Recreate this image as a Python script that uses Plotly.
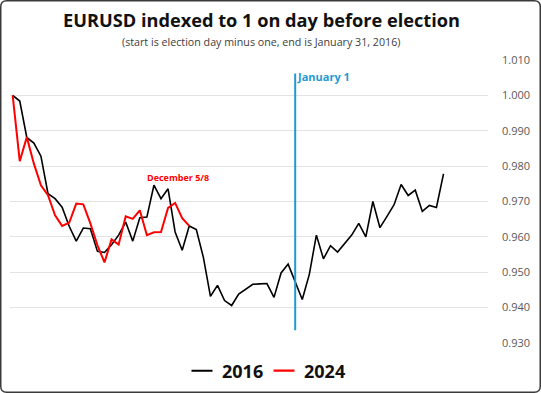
import plotly.graph_objects as go

# ---- data ----
values_2016 = [1.0000, 0.9984, 0.9881, 0.9865, 0.9828, 0.9722, 0.9708, 0.9684, 0.9630, 0.9588,
               0.9625, 0.9623, 0.9559, 0.9556, 0.9578, 0.9605, 0.9642, 0.9588, 0.9654, 0.9656,
               0.9746, 0.9708, 0.9736, 0.9614, 0.9562, 0.9631, 0.9621, 0.9542, 0.9432, 0.9463,
               0.9420, 0.9406, 0.9438, 0.9451, 0.9466, 0.9467, 0.9468, 0.9429, 0.9498, 0.9523,
               0.9473, 0.9423, 0.9494, 0.9605, 0.9538, 0.9575, 0.9557, 0.9582, 0.9605, 0.9638,
               0.9600, 0.9700, 0.9626, 0.9658, 0.9691, 0.9748, 0.9717, 0.9732, 0.9672, 0.9689,
               0.9683, 0.9778]
values_2024 = [1.0000, 0.9814, 0.9882, 0.9807, 0.9746, 0.9718, 0.9661, 0.9631, 0.9640, 0.9694,
               0.9692, 0.9638, 0.9576, 0.9528, 0.9593, 0.9578, 0.9658, 0.9651, 0.9675, 0.9605,
               0.9613, 0.9614, 0.9682, 0.9696, 0.9653, 0.9631]
series_names = ["2016", "2024"]
series_colors = ["#000000", "#ff0000"]
y_ticks = [0.93, 0.94, 0.95, 0.96, 0.97, 0.98, 0.99, 1.00, 1.01]
y_tick_labels = ["0.930", "0.940", "0.950", "0.960", "0.970", "0.980", "0.990", "1.000", "1.010"]

jan1_index = 40
jan1_line_span = [0.9336, 1.0062]
jan1_label = "January 1"
jan1_label_y = 1.0054
dec_label = "December 5/8"
dec_label_pos = (23.4, 0.9768)

title = "EURUSD indexed to 1 on day before election"
subtitle = "(start is election day minus one, end is January 31, 2016)"

W, H = 541, 393
ML, MR, MT, MB = 10, 53, 60, 50
FONT = "Open Sans"
pw, ph = W - ML - MR, H - MT - MB


def px_to_paper(px, py):
    return (px - ML) / pw, 1 - (py - MT) / ph


fig = go.Figure()
widths = [1.6, 2.0]
for name, vals, col, w in zip(series_names, [values_2016, values_2024], series_colors, widths):
    fig.add_trace(go.Scatter(x=list(range(len(vals))), y=vals, mode="lines", name=name,
                             line=dict(color=col, width=w), showlegend=False))
# legend-only entries with short line symbols
for name, col, w in zip(series_names, series_colors, widths):
    fig.add_trace(go.Scatter(x=[None], y=[None], mode="markers", name=name,
                             marker=dict(symbol="line-ew", size=15,
                                         line=dict(color=col, width=w + 0.3)),
                             showlegend=True))

fig.add_shape(type="line", xref="x", yref="y", x0=jan1_index, x1=jan1_index,
              y0=jan1_line_span[0], y1=jan1_line_span[1],
              line=dict(color="#1f9ad6", width=2))

fig.add_annotation(x=jan1_index, y=jan1_label_y, xref="x", yref="y", text=f"<b>{jan1_label}</b>",
                   showarrow=False, xanchor="left", xshift=0,
                   font=dict(family=FONT, size=11, color="#1f9ad6"))
fig.add_annotation(x=dec_label_pos[0], y=dec_label_pos[1], xref="x", yref="y", text=f"<b>{dec_label}</b>",
                   showarrow=False, xanchor="center",
                   font=dict(family=FONT, size=9, color="#ff0000"))

tx, ty = px_to_paper(261, 20)
fig.add_annotation(x=tx, y=ty, xref="paper", yref="paper", text=f"<b>{title}</b>",
                   showarrow=False, xanchor="center", yanchor="middle",
                   font=dict(family=FONT, size=18.2, color="#111111"))
sx, sy = px_to_paper(261, 42)
fig.add_annotation(x=sx, y=sy, xref="paper", yref="paper", text=subtitle,
                   showarrow=False, xanchor="center", yanchor="middle",
                   font=dict(family=FONT, size=10.7, color="#404040"))

# outer border with rounded corners (path in paper units)
r = 6
e = 0.75


def P(px, py):
    x, y = px_to_paper(px, py)
    return f"{x:.5f},{y:.5f}"


L, R, T, B = e, W - e, e, H - e
path = (f"M {P(L + r, T)} L {P(R - r, T)} Q {P(R, T)} {P(R, T + r)} "
        f"L {P(R, B - r)} Q {P(R, B)} {P(R - r, B)} "
        f"L {P(L + r, B)} Q {P(L, B)} {P(L, B - r)} "
        f"L {P(L, T + r)} Q {P(L, T)} {P(L + r, T)} Z")
fig.add_shape(type="path", xref="paper", yref="paper", path=path,
              line=dict(color="#3a3a3a", width=1.5), layer="above")

fig.update_layout(
    width=W, height=H, margin=dict(l=ML, r=MR, t=MT, b=MB, autoexpand=False),
    paper_bgcolor="white", plot_bgcolor="white",
    font=dict(family=FONT, color="#404040"),
    showlegend=True,
    legend=dict(orientation="h", xref="container", yref="container", x=182 / W, y=1 - 371 / H,
                xanchor="left", yanchor="middle", itemwidth=30, entrywidth=37,
                bgcolor="rgba(0,0,0,0)",
                font=dict(family=FONT, size=18, color="#111111", weight="bold")),
    xaxis=dict(range=[-0.38, 67.3], visible=False, showgrid=False, zeroline=False, automargin=False),
    yaxis=dict(range=[0.93, 1.01], side="right", tickvals=y_ticks, ticktext=y_tick_labels,
               showgrid=True, gridcolor="#e3e3e3", gridwidth=1, zeroline=False,
               showline=False, ticks="", ticklabelstandoff=13, automargin=False,
               tickfont=dict(family=FONT, size=11, color="#595959")),
)

fig.write_html("out.html", config={"displayModeBar": False},
               post_script="document.body.style.margin='0';document.body.style.padding='0';")
